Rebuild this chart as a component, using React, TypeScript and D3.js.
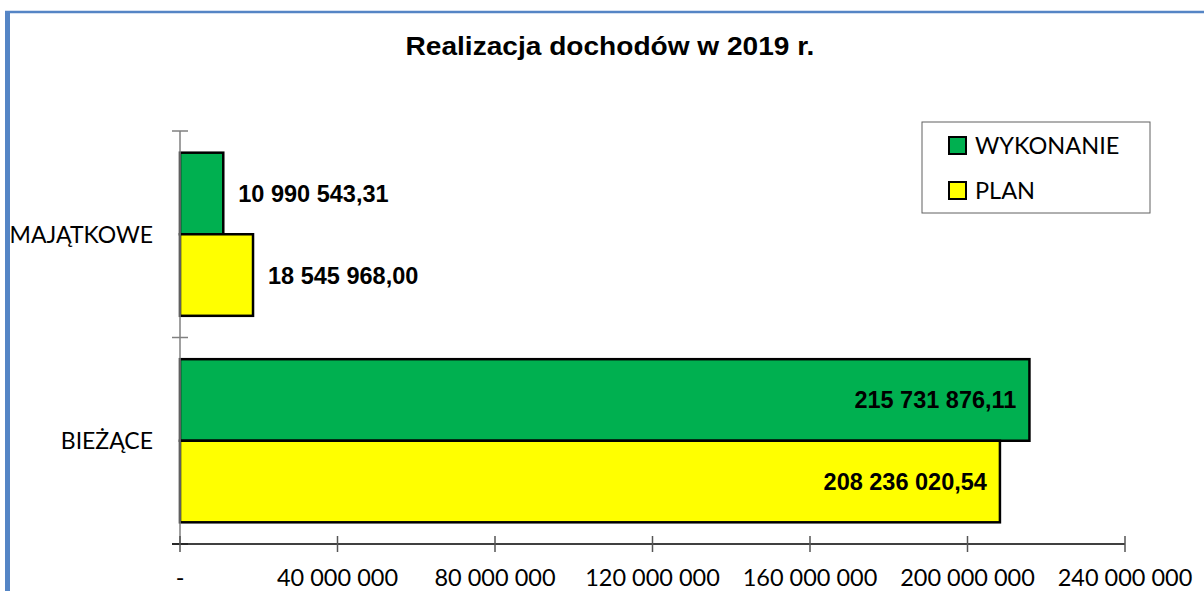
import * as d3 from 'd3';

// chart data
const categories = ['MAJĄTKOWE', 'BIEŻĄCE'];
const seriesNames = ['WYKONANIE', 'PLAN'];
const wykonanie = [10990543.31, 215731876.11];
const plan = [18545968.0, 208236020.54];
const xTicks = [0, 40000000, 80000000, 120000000, 160000000, 200000000, 240000000];

const colors = ['#00B050', '#FFFF00'];
const W = 1204;
const H = 591;

const plLocale = d3.formatLocale({ decimal: ',', thousands: ' ', grouping: [3], currency: ['', ''] });
const fmtValue = plLocale.format(',.2f');
const fmtTick = (v: number) => (v === 0 ? '-' : plLocale.format(',.0f')(v));

const sansFont = 'Lato, "Open Sans", sans-serif';
const boldFont = '"Liberation Sans", Arial, sans-serif';

const App = () => {
  const margin = { top: 131, right: 79, bottom: 47, left: 180 };
  const plotBottom = H - margin.bottom;

  const x = d3.scaleLinear().domain([0, 240000000]).range([margin.left, W - margin.right]);
  const y = d3.scaleBand().domain(categories).range([margin.top, plotBottom]);
  const gap = y.bandwidth() * 0.105;
  const ySub = d3.scaleBand().domain(seriesNames).range([gap, y.bandwidth() - gap]);

  const rows = categories.map((c, i) => ({ cat: c, values: [wykonanie[i], plan[i]] }));

  return (
    <svg width={W} height={H} style={{ position: 'absolute', left: 0, top: 0, background: '#fff' }}>
      {/* frame */}
      <line x1={7.5} x2={7.5} y1={11} y2={H} stroke="#5585C5" strokeWidth={5} />
      <line x1={5} x2={W} y1={12} y2={12} stroke="#5585C5" strokeWidth={2.5} />

      {/* title */}
      <text
        x={610}
        y={55}
        textAnchor="middle"
        fontFamily={boldFont}
        fontWeight="bold"
        fontSize={26.5}
        transform="translate(610,0) scale(1.06,1) translate(-610,0)"
      >
        Realizacja dochodów w 2019 r.
      </text>

      {/* bars */}
      {rows.map((r) => (
        <g key={r.cat} transform={`translate(0,${y(r.cat)})`}>
          {r.values.map((v, j) => {
            const by = ySub(seriesNames[j])!;
            const bh = ySub.bandwidth();
            const inside = x(v) - x(0) > 300;
            return (
              <g key={seriesNames[j]}>
                <rect
                  x={x(0)}
                  y={by}
                  width={x(v) - x(0)}
                  height={bh}
                  fill={colors[j]}
                  stroke="#000"
                  strokeWidth={2.5}
                />
                <text
                  x={inside ? x(v) - 13 : x(v) + 15}
                  y={by + bh / 2 + 8.5}
                  textAnchor={inside ? 'end' : 'start'}
                  fontFamily={boldFont}
                  fontWeight="bold"
                  fontSize={23.5}
                >
                  {fmtValue(v)}
                </text>
              </g>
            );
          })}
        </g>
      ))}

      {/* y axis */}
      <line x1={x(0)} x2={x(0)} y1={margin.top} y2={plotBottom} stroke="#808080" strokeWidth={1.5} />
      {[...categories.map((c) => y(c)!), plotBottom].map((t, i) => (
        <line key={i} x1={x(0) - 8} x2={x(0) + 8} y1={t} y2={t} stroke="#808080" strokeWidth={1.5} />
      ))}
      {categories.map((c) => (
        <text
          key={c}
          x={x(0) - 27}
          y={y(c)! + y.bandwidth() / 2 + 8.5}
          textAnchor="end"
          fontFamily={sansFont}
          fontSize={23}
        >
          {c}
        </text>
      ))}

      {/* x axis */}
      <line x1={x(0) - 8} x2={x(240000000)} y1={plotBottom} y2={plotBottom} stroke="#000" strokeWidth={1.5} />
      {xTicks.map((t) => (
        <g key={t}>
          <line x1={x(t)} x2={x(t)} y1={plotBottom - 8} y2={plotBottom + 8} stroke="#555" strokeWidth={1.5} />
          <text x={x(t)} y={586} textAnchor="middle" fontFamily={sansFont} fontSize={23.5}>
            {fmtTick(t)}
          </text>
        </g>
      ))}

      {/* legend */}
      <rect x={922} y={122} width={228} height={91} fill="#fff" stroke="#606060" strokeWidth={1} />
      {seriesNames.map((s, i) => (
        <g key={s} transform={`translate(949,${137 + i * 45})`}>
          <rect x={0} y={0} width={17} height={17} fill={colors[i]} stroke="#000" strokeWidth={2} />
          <text x={26} y={17} fontFamily={sansFont} fontSize={23.5}>
            {s}
          </text>
        </g>
      ))}
    </svg>
  );
};

export default App;
